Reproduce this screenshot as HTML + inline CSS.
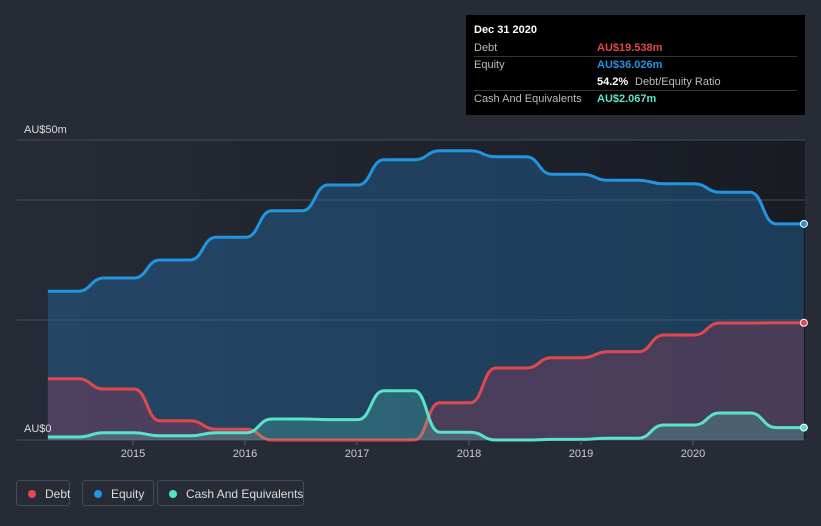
<!DOCTYPE html>
<html><head><meta charset="utf-8"><style>
body{margin:0;background:#262b36;font-family:"Liberation Sans",sans-serif;}
#wrap{position:relative;width:821px;height:526px;overflow:hidden;background:#262b36;}
.tt{position:absolute;left:466px;top:15px;width:339px;height:100px;background:#000;color:#fff;font-size:11px;}
.tt .row{position:absolute;left:8px;right:8px;height:17px;border-bottom:1px solid #333;}
.tt .l{position:absolute;left:0;top:3px;color:#bbb;}
.tt .v{position:absolute;left:123px;top:3px;font-weight:bold;}
.leg{position:absolute;top:480px;height:26px;border:1px solid #444a57;border-radius:3px;color:#ddd;font-size:12px;line-height:26px;box-sizing:border-box;padding-left:28px;white-space:nowrap;}
.leg i{position:absolute;left:11px;top:9px;width:8px;height:8px;border-radius:50%;}
</style></head><body>
<div id="wrap">
<svg id="svg" width="821" height="526" style="position:absolute;left:0;top:0">
<defs><linearGradient id="bgg" x1="0" x2="1" y1="0" y2="0"><stop offset="0" stop-color="#262b36"/><stop offset="1" stop-color="#181b22"/></linearGradient></defs>
</svg>
<div class="tt">
<div style="position:absolute;left:8px;top:9px;font-weight:bold;font-size:11px">Dec 31 2020</div>
<div class="row" style="top:24px"><span class="l">Debt</span><span class="v" style="color:#e0484e">AU$19.538m</span></div>
<div class="row" style="top:41px;border:none"><span class="l">Equity</span><span class="v" style="color:#2394df">AU$36.026m</span></div>
<div class="row" style="top:58px"><span class="v">54.2%</span><span class="v" style="left:161px;font-weight:normal;color:#bbb">Debt/Equity Ratio</span></div>
<div class="row" style="top:75px;border:none"><span class="l">Cash And Equivalents</span><span class="v" style="color:#59e3c9">AU$2.067m</span></div>
</div>
<div class="leg" style="left:16px;width:54px"><i style="background:#e0484e"></i>Debt</div>
<div class="leg" style="left:82px;width:72px"><i style="background:#2394df"></i>Equity</div>
<div class="leg" style="left:157px;width:147px"><i style="background:#59e3c9"></i>Cash And Equivalents</div>
</div>
<script>
const dates=[2014.24,2014.74,2015.24,2015.74,2016.24,2016.74,2017.24,2017.74,2018.24,2018.74,2019.24,2019.74,2020.24,2020.74];
const endDate=2020.99;
const equity=[24.8,27,30,33.8,38.2,42.5,46.7,48.2,47.2,44.3,43.3,42.7,41.3,36.03];
const debt=[10.2,8.5,3.2,1.8,0,0,0,6.2,12,13.7,14.7,17.5,19.5,19.54];
const cash=[0.5,1.2,0.7,1.2,3.5,3.4,8.2,1.3,0,0.1,0.3,2.5,4.5,2.07];
const xTicks=[2015,2016,2017,2018,2019,2020];
const yMax=50;
const X=t=>133+(t-2015)*112;
const Y=v=>440-v/yMax*300;
const svg=document.getElementById('svg');
const NS='http://www.w3.org/2000/svg';
function mk(tag,attrs,parent){const e=document.createElementNS(NS,tag);for(const k in attrs)e.setAttribute(k,attrs[k]);(parent||svg).appendChild(e);return e;}
let bg=mk('rect',{x:17,y:140,width:788,height:300,fill:'url(#bgg)'});


[50,40,20,0].forEach(v=>{const g=mk('line',{x1:17,x2:805,y1:Y(v),y2:Y(v),stroke:'#454b57','stroke-width':1});

});
function path(vals){
 let d='M'+X(dates[0])+','+Y(vals[0]);
 for(let i=0;i<vals.length-1;i++){
  const a=X(dates[i]+0.27),b=X(dates[i+1]),m=(a+b)/2;
  d+=' L'+a+','+Y(vals[i])+' C'+m+','+Y(vals[i])+' '+m+','+Y(vals[i+1])+' '+b+','+Y(vals[i+1]);
 }
 d+=' L'+X(endDate)+','+Y(vals[vals.length-1]);
 return d;
}
function series(vals,color,fill,name){
 const d=path(vals);
 const f=mk('path',{d:d+' L'+X(endDate)+','+Y(0)+' L'+X(dates[0])+','+Y(0)+' Z',fill:fill});
 
 
 const l=mk('path',{d:d,fill:'none',stroke:color,'stroke-width':3});
 
 
 const c=mk('circle',{cx:X(endDate),cy:Y(vals[vals.length-1]),r:3.5,fill:color,stroke:'#fff','stroke-width':1});
 
 
}
series(equity,'#2394df','rgba(35,110,170,0.4)','equity');
series(debt,'#e0484e','rgba(140,60,90,0.4)','debt');
series(cash,'#59e3c9','rgba(89,227,201,0.22)','cash');
xTicks.forEach(t=>{const tk=mk('line',{x1:X(t),x2:X(t),y1:440,y2:445,stroke:'#555b67'});


const e=mk('text',{x:X(t),y:457,fill:'#ccc','font-size':11,'text-anchor':'middle','font-family':'Liberation Sans'});e.textContent=t;

});
[[50,'AU$50m',133],[0,'AU$0',432]].forEach(a=>{const e=mk('text',{x:24,y:a[2],fill:'#ddd','font-size':11,'font-family':'Liberation Sans'});e.textContent=a[1];

});
</script>
</body></html>
